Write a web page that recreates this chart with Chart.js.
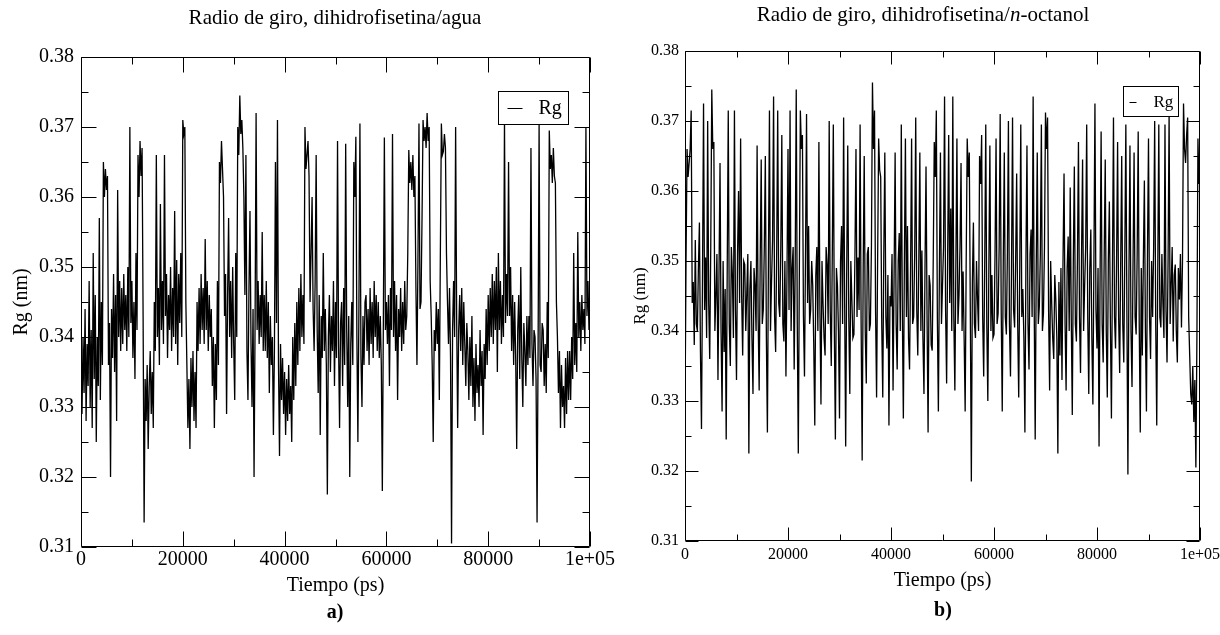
<!DOCTYPE html>
<html><head><meta charset="utf-8">
<script src="https://cdn.jsdelivr.net/npm/chart.js@4.4.1/dist/chart.umd.min.js"></script>
<style>
html,body{margin:0;padding:0;background:#fff;overflow:hidden;width:1220px;height:635px;}
.wrap{position:absolute;top:0;height:635px;}
#wa{left:0;width:640px;}
#wb{left:600px;width:640px;}
</style></head><body>
<div class="wrap" id="wa"><canvas id="ca" width="640" height="635"></canvas></div>
<div class="wrap" id="wb"><canvas id="cb" width="640" height="635"></canvas></div>
<script>
// ---- data ----
const timeStepPs = 200; // sampling interval of the arrays below (0 .. 100000 ps)
const rgAgua = [
0.338, 0.329, 0.340, 0.332, 0.344, 0.328, 0.339, 0.333, 0.348, 0.330, 0.341, 0.327, 0.352, 0.334, 0.346, 0.325, 0.340, 0.333, 0.357, 0.331,
0.345, 0.336, 0.365, 0.360, 0.364, 0.361, 0.363, 0.336, 0.342, 0.320, 0.344, 0.337, 0.349, 0.335, 0.346, 0.328, 0.361, 0.340, 0.348, 0.338,
0.347, 0.339, 0.349, 0.341, 0.346, 0.338, 0.350, 0.340, 0.370, 0.342, 0.348, 0.337, 0.345, 0.334, 0.352, 0.341, 0.366, 0.360, 0.368, 0.363,
0.367, 0.343, 0.3135, 0.334, 0.328, 0.336, 0.324, 0.333, 0.338, 0.329, 0.335, 0.327, 0.345, 0.338, 0.366, 0.340, 0.347, 0.336, 0.359, 0.341,
0.348, 0.339, 0.366, 0.343, 0.349, 0.337, 0.346, 0.341, 0.350, 0.338, 0.347, 0.340, 0.358, 0.339, 0.351, 0.336, 0.349, 0.342, 0.352, 0.340,
0.371, 0.369, 0.370, 0.345, 0.336, 0.327, 0.334, 0.324, 0.337, 0.330, 0.338, 0.328, 0.335, 0.327, 0.345, 0.338, 0.347, 0.339, 0.349, 0.341,
0.347, 0.339, 0.354, 0.341, 0.348, 0.338, 0.346, 0.340, 0.344, 0.333, 0.340, 0.327, 0.339, 0.331, 0.348, 0.336, 0.365, 0.362, 0.368, 0.364,
0.360, 0.343, 0.349, 0.329, 0.346, 0.357, 0.340, 0.348, 0.337, 0.350, 0.339, 0.331, 0.352, 0.340, 0.370, 0.366, 0.3745, 0.369, 0.371, 0.367,
0.360, 0.346, 0.366, 0.338, 0.331, 0.347, 0.358, 0.339, 0.330, 0.344, 0.320, 0.342, 0.372, 0.341, 0.348, 0.339, 0.346, 0.340, 0.355, 0.338,
0.346, 0.338, 0.348, 0.337, 0.345, 0.332, 0.343, 0.336, 0.340, 0.326, 0.338, 0.365, 0.342, 0.371, 0.336, 0.323, 0.339, 0.331, 0.337, 0.329,
0.335, 0.326, 0.334, 0.328, 0.336, 0.329, 0.333, 0.325, 0.340, 0.331, 0.342, 0.333, 0.345, 0.336, 0.347, 0.338, 0.349, 0.340, 0.346, 0.339,
0.370, 0.364, 0.366, 0.368, 0.363, 0.345, 0.352, 0.360, 0.344, 0.338, 0.348, 0.366, 0.341, 0.332, 0.346, 0.326, 0.343, 0.337, 0.352, 0.338,
0.344, 0.336, 0.3175, 0.340, 0.346, 0.335, 0.343, 0.338, 0.348, 0.333, 0.345, 0.337, 0.368, 0.339, 0.327, 0.342, 0.345, 0.333, 0.347, 0.336,
0.3676, 0.341, 0.330, 0.343, 0.320, 0.339, 0.345, 0.336, 0.365, 0.360, 0.3686, 0.340, 0.325, 0.344, 0.3705, 0.337, 0.330, 0.343, 0.336, 0.345,
0.346, 0.338, 0.344, 0.336, 0.347, 0.339, 0.345, 0.337, 0.348, 0.340, 0.346, 0.338, 0.345, 0.337, 0.343, 0.336, 0.318, 0.342, 0.3685, 0.341,
0.345, 0.339, 0.346, 0.333, 0.347, 0.341, 0.369, 0.340, 0.348, 0.338, 0.346, 0.331, 0.344, 0.340, 0.347, 0.338, 0.345, 0.339, 0.348, 0.341,
0.343, 0.352, 0.3667, 0.362, 0.365, 0.361, 0.366, 0.360, 0.363, 0.347, 0.336, 0.351, 0.3705, 0.344, 0.345, 0.357, 0.371, 0.368, 0.370, 0.367,
0.372, 0.368, 0.370, 0.348, 0.343, 0.336, 0.325, 0.341, 0.338, 0.345, 0.339, 0.344, 0.331, 0.352, 0.3705, 0.366, 0.3665, 0.369, 0.367, 0.352,
0.345, 0.339, 0.347, 0.337, 0.3105, 0.341, 0.348, 0.340, 0.370, 0.343, 0.327, 0.341, 0.346, 0.338, 0.347, 0.336, 0.345, 0.339, 0.333, 0.342,
0.338, 0.331, 0.340, 0.333, 0.343, 0.330, 0.337, 0.328, 0.339, 0.332, 0.336, 0.330, 0.341, 0.333, 0.338, 0.326, 0.339, 0.334, 0.344, 0.336,
0.346, 0.338, 0.347, 0.340, 0.349, 0.339, 0.348, 0.341, 0.350, 0.335, 0.352, 0.341, 0.348, 0.339, 0.346, 0.340, 0.371, 0.342, 0.349, 0.343,
0.365, 0.343, 0.350, 0.338, 0.346, 0.336, 0.345, 0.337, 0.324, 0.341, 0.346, 0.334, 0.350, 0.337, 0.330, 0.342, 0.338, 0.333, 0.343, 0.336,
0.343, 0.337, 0.367, 0.339, 0.333, 0.341, 0.340, 0.334, 0.3135, 0.338, 0.3705, 0.336, 0.335, 0.342, 0.341, 0.333, 0.339, 0.332, 0.345, 0.337,
0.3695, 0.364, 0.366, 0.362, 0.367, 0.363, 0.362, 0.345, 0.340, 0.332, 0.338, 0.327, 0.336, 0.330, 0.333, 0.327, 0.337, 0.329, 0.338, 0.331,
0.338, 0.331, 0.340, 0.334, 0.352, 0.336, 0.342, 0.335, 0.355, 0.340, 0.345, 0.338, 0.346, 0.341, 0.344, 0.339, 0.370, 0.343, 0.348, 0.341,
0.346
];
const rgOctanol = [
0.3285, 0.350, 0.366, 0.362, 0.364, 0.366, 0.3715, 0.344, 0.347, 0.338, 0.353, 0.341, 0.340, 0.349, 0.3555, 0.337, 0.326, 0.348, 0.3725, 0.343,
0.3505, 0.339, 0.370, 0.344, 0.336, 0.352, 0.3745, 0.366, 0.367, 0.340, 0.345, 0.351, 0.333, 0.348, 0.364, 0.340, 0.3285, 0.350, 0.337, 0.346,
0.3245, 0.349, 0.3715, 0.341, 0.335, 0.352, 0.348, 0.339, 0.3715, 0.343, 0.333, 0.351, 0.360, 0.344, 0.3675, 0.345, 0.3365, 0.350, 0.3495, 0.340,
0.3455, 0.351, 0.3225, 0.346, 0.350, 0.339, 0.331, 0.349, 0.3465, 0.340, 0.3665, 0.342, 0.3315, 0.350, 0.3645, 0.341, 0.343, 0.352, 0.365, 0.339,
0.3255, 0.350, 0.3715, 0.340, 0.347, 0.353, 0.3735, 0.342, 0.337, 0.351, 0.3715, 0.344, 0.342, 0.352, 0.368, 0.341, 0.3385, 0.350, 0.3335, 0.348,
0.366, 0.343, 0.3715, 0.340, 0.349, 0.352, 0.3345, 0.350, 0.3745, 0.341, 0.3225, 0.348, 0.3715, 0.366, 0.368, 0.342, 0.3335, 0.351, 0.371, 0.344,
0.355, 0.341, 0.343, 0.350, 0.3465, 0.338, 0.3265, 0.348, 0.352, 0.340, 0.367, 0.343, 0.3295, 0.350, 0.344, 0.339, 0.3365, 0.352, 0.3495, 0.341,
0.370, 0.343, 0.335, 0.351, 0.3695, 0.340, 0.3245, 0.349, 0.3465, 0.340, 0.3275, 0.350, 0.355, 0.341, 0.3705, 0.344, 0.3235, 0.349, 0.3665, 0.342,
0.331, 0.350, 0.3445, 0.339, 0.3395, 0.351, 0.366, 0.342, 0.3505, 0.343, 0.3695, 0.341, 0.3215, 0.349, 0.365, 0.340, 0.3325, 0.351, 0.352, 0.340,
0.341, 0.352, 0.3755, 0.366, 0.3715, 0.343, 0.3305, 0.350, 0.3675, 0.363, 0.362, 0.341, 0.3305, 0.351, 0.3655, 0.342, 0.3375, 0.348, 0.3265, 0.345,
0.3435, 0.351, 0.3315, 0.348, 0.3655, 0.341, 0.3345, 0.350, 0.354, 0.340, 0.3695, 0.343, 0.3275, 0.350, 0.3675, 0.342, 0.355, 0.339, 0.3345, 0.349,
0.3675, 0.341, 0.342, 0.351, 0.3705, 0.343, 0.3365, 0.350, 0.3655, 0.340, 0.3515, 0.339, 0.331, 0.349, 0.3635, 0.342, 0.3255, 0.348, 0.3465, 0.338,
0.3372, 0.350, 0.367, 0.362, 0.3715, 0.342, 0.3285, 0.349, 0.3655, 0.341, 0.3465, 0.352, 0.3735, 0.343, 0.3325, 0.351, 0.368, 0.344, 0.3575, 0.340,
0.3735, 0.342, 0.3315, 0.350, 0.3675, 0.341, 0.345, 0.352, 0.364, 0.340, 0.3485, 0.339, 0.3285, 0.350, 0.3675, 0.362, 0.3655, 0.343, 0.3185, 0.347,
0.3555, 0.341, 0.339, 0.350, 0.3445, 0.340, 0.365, 0.361, 0.368, 0.342, 0.3335, 0.350, 0.3695, 0.341, 0.330, 0.349, 0.3665, 0.340, 0.348, 0.339,
0.3395, 0.351, 0.3675, 0.341, 0.3425, 0.352, 0.371, 0.343, 0.3285, 0.350, 0.3655, 0.342, 0.3395, 0.351, 0.370, 0.341, 0.3335, 0.349, 0.3705, 0.343,
0.3405, 0.350, 0.3625, 0.341, 0.3305, 0.349, 0.3695, 0.342, 0.346, 0.339, 0.3255, 0.350, 0.3665, 0.341, 0.3345, 0.351, 0.3545, 0.342, 0.3735, 0.344,
0.3245, 0.349, 0.3655, 0.341, 0.3435, 0.351, 0.3695, 0.340, 0.3425, 0.352, 0.3712, 0.366, 0.3705, 0.343, 0.3315, 0.350, 0.344, 0.339, 0.336, 0.348,
0.3445, 0.339, 0.3225, 0.347, 0.3365, 0.349, 0.333, 0.350, 0.3625, 0.341, 0.3315, 0.349, 0.3535, 0.340, 0.3605, 0.342, 0.328, 0.350, 0.3635, 0.341,
0.3385, 0.350, 0.367, 0.342, 0.334, 0.351, 0.3645, 0.340, 0.3465, 0.352, 0.3695, 0.342, 0.331, 0.349, 0.3545, 0.339, 0.3295, 0.350, 0.3725, 0.343,
0.3375, 0.349, 0.3235, 0.348, 0.3685, 0.341, 0.3355, 0.351, 0.3645, 0.340, 0.3305, 0.350, 0.3585, 0.341, 0.3275, 0.349, 0.3705, 0.342, 0.3375, 0.350,
0.367, 0.342, 0.334, 0.350, 0.365, 0.341, 0.3355, 0.351, 0.3695, 0.343, 0.3195, 0.348, 0.3665, 0.340, 0.332, 0.350, 0.3655, 0.342, 0.3395, 0.351,
0.3685, 0.341, 0.3255, 0.349, 0.3365, 0.350, 0.3615, 0.340, 0.3285, 0.351, 0.3675, 0.342, 0.336, 0.350, 0.342, 0.352, 0.370, 0.341, 0.3265, 0.349,
0.3695, 0.342, 0.3405, 0.351, 0.344, 0.339, 0.3695, 0.343, 0.3355, 0.350, 0.371, 0.341, 0.3465, 0.352, 0.3385, 0.348, 0.3495, 0.340, 0.3355, 0.349,
0.3445, 0.351, 0.3405, 0.350, 0.3725, 0.366, 0.364, 0.368, 0.3705, 0.342, 0.3365, 0.331, 0.3295, 0.335, 0.327, 0.333, 0.3205, 0.339, 0.3675, 0.361,
0.364
];
const xTickValues = [0, 20000, 40000, 60000, 80000, 100000];
const xTickLabels = ['0', '20000', '40000', '60000', '80000', '1e+05'];
const xMinorValues = [10000, 30000, 50000, 70000, 90000];
const yTickValues = [0.31, 0.32, 0.33, 0.34, 0.35, 0.36, 0.37, 0.38];
const yTickLabels = ['0.31', '0.32', '0.33', '0.34', '0.35', '0.36', '0.37', '0.38'];
const yMinorValues = [0.315, 0.325, 0.335, 0.345, 0.355, 0.365, 0.375];
const seriesLabel = 'Rg';
const titleAgua = [{text: 'Radio de giro, dihidrofisetina/agua'}];
const titleOctanol = [{text: 'Radio de giro, dihidrofisetina/'}, {text: 'n', italic: true}, {text: '-octanol'}];
const xAxisTitle = 'Tiempo (ps)';
const yAxisTitle = 'Rg (nm)';

const SERIF = '"Liberation Serif", "Times New Roman", serif';

// ---- plugins ----
const frameTicks = {
  id: 'frameTicks',
  afterDatasetsDraw(chart, args, o) {
    const ctx = chart.ctx, a = chart.chartArea, xs = chart.scales.x, ys = chart.scales.y;
    const L = Math.round(a.left) + 0.5, R = Math.round(a.right) - 0.5;
    const T = Math.round(a.top) + 0.5, B = Math.round(a.bottom) - 0.5;
    ctx.save();
    ctx.strokeStyle = '#000';
    ctx.lineWidth = 1;
    ctx.beginPath();
    ctx.rect(L, T, R - L, B - T);
    const seg = (x1, y1, x2, y2) => { ctx.moveTo(x1, y1); ctx.lineTo(x2, y2); };
    [[xTickValues, o.major], [xMinorValues, o.minor]].forEach(([vals, len]) => {
      vals.forEach(v => {
        const px = Math.round(xs.getPixelForValue(v)) + 0.5;
        seg(px, B, px, B - len); seg(px, T, px, T + len);
      });
    });
    [[yTickValues, o.major], [yMinorValues, o.minor]].forEach(([vals, len]) => {
      vals.forEach(v => {
        const py = Math.round(ys.getPixelForValue(v)) + 0.5;
        seg(L, py, L + len, py); seg(R, py, R - len, py);
      });
    });
    ctx.stroke();
    // legend box
    const lb = o.legend;
    const bx = Math.round(a.right - lb.right - lb.w) + 0.5, by = Math.round(a.top + lb.top) + 0.5;
    ctx.fillStyle = '#fff';
    ctx.fillRect(bx, by, lb.w, lb.h);
    ctx.strokeRect(bx, by, lb.w, lb.h);
    const cy = Math.round(by + lb.h / 2) + 0.5;
    ctx.beginPath();
    ctx.moveTo(bx + lb.l1, cy); ctx.lineTo(bx + lb.l2, cy);
    ctx.stroke();
    ctx.fillStyle = '#000';
    ctx.font = lb.font + 'px ' + SERIF;
    ctx.textAlign = 'left';
    ctx.textBaseline = 'middle';
    ctx.fillText(chart.data.datasets[0].label, bx + lb.tx, by + lb.h / 2 + 1);
    ctx.restore();
  }
};

const panelText = {
  id: 'panelText',
  afterDraw(chart, args, o) {
    const ctx = chart.ctx;
    ctx.save();
    ctx.fillStyle = '#000';
    ctx.textBaseline = 'middle';
    ctx.textAlign = 'left';
    let total = 0;
    const parts = o.title.map(p => {
      ctx.font = (p.italic ? 'italic ' : '') + o.titleSize + 'px ' + SERIF;
      const w = ctx.measureText(p.text).width;
      total += w;
      return {text: p.text, italic: p.italic, w};
    });
    let x = o.titleX - total / 2;
    parts.forEach(p => {
      ctx.font = (p.italic ? 'italic ' : '') + o.titleSize + 'px ' + SERIF;
      ctx.fillText(p.text, x, o.titleY);
      x += p.w;
    });
    ctx.font = 'bold 20px ' + SERIF;
    ctx.textAlign = 'center';
    ctx.fillText(o.label, o.labelX, o.labelY);
    ctx.restore();
  }
};

function makeChart(id, values, c) {
  const pts = values.map((v, i) => ({x: i * timeStepPs, y: v}));
  return new Chart(document.getElementById(id), {
    type: 'line',
    data: {datasets: [{label: seriesLabel, data: pts, borderColor: '#000', borderWidth: 1.3,
      pointRadius: 0, tension: 0, fill: false}]},
    options: {
      responsive: false, animation: false, events: [],
      layout: {padding: {left: 0, right: c.padRight, top: c.padTop, bottom: c.padBottom}},
      plugins: {
        legend: {display: false}, tooltip: {enabled: false}, title: {display: false},
        frameTicks: {major: c.major, minor: c.minor, legend: c.legend},
        panelText: c.text
      },
      scales: {
        x: {
          type: 'linear', min: 0, max: 100000,
          grid: {display: false, drawTicks: false}, border: {display: false},
          afterBuildTicks: s => { s.ticks = xTickValues.map(v => ({value: v})); },
          ticks: {autoSkip: false, maxRotation: 0, padding: c.xTickPad, color: '#000',
            font: {family: SERIF, size: c.tickSize},
            callback: v => xTickLabels[xTickValues.indexOf(v)]},
          title: {display: true, text: xAxisTitle, color: '#000',
            font: {family: SERIF, size: 20}, padding: {top: 0, bottom: c.xTitlePad}},
          afterFit: s => { s.height = c.xHeight; }
        },
        y: {
          type: 'linear', min: 0.31, max: 0.38,
          grid: {display: false, drawTicks: false}, border: {display: false},
          afterBuildTicks: s => { s.ticks = yTickValues.map(v => ({value: v})); },
          ticks: {autoSkip: false, padding: c.yTickPad, color: '#000',
            font: {family: SERIF, size: c.tickSize},
            callback: v => yTickLabels[yTickValues.indexOf(v)]},
          title: {display: true, text: yAxisTitle, color: '#000',
            font: {family: SERIF, size: c.yTitleSize}, padding: {top: c.yTitlePad, bottom: 0}},
          afterFit: s => { s.width = c.yWidth; }
        }
      }
    },
    plugins: [frameTicks, panelText]
  });
}

makeChart('ca', rgAgua, {
  padRight: 50, padTop: 57, padBottom: 30, yWidth: 81, xHeight: 58,
  tickSize: 20, xTickPad: 1, yTickPad: 7, xTitlePad: 7, yTitleSize: 20, yTitlePad: 10,
  major: 15, minor: 7,
  legend: {right: 22, top: 34, w: 70, h: 33, l1: 9, l2: 24, tx: 40, font: 20},
  text: {title: titleAgua, titleSize: 21, titleX: 335, titleY: 18, label: 'a)', labelX: 335, labelY: 613}
});
makeChart('cb', rgOctanol, {
  padRight: 40, padTop: 51, padBottom: 30, yWidth: 85, xHeight: 64,
  tickSize: 16, xTickPad: 4, yTickPad: 6, xTitlePad: 12, yTitleSize: 17, yTitlePad: 30,
  major: 13, minor: 6,
  legend: {right: 22, top: 35, w: 55, h: 30, l1: 6, l2: 13, tx: 30, font: 17},
  text: {title: titleOctanol, titleSize: 21, titleX: 323, titleY: 15, label: 'b)', labelX: 343, labelY: 611}
});
</script>
</body></html>
